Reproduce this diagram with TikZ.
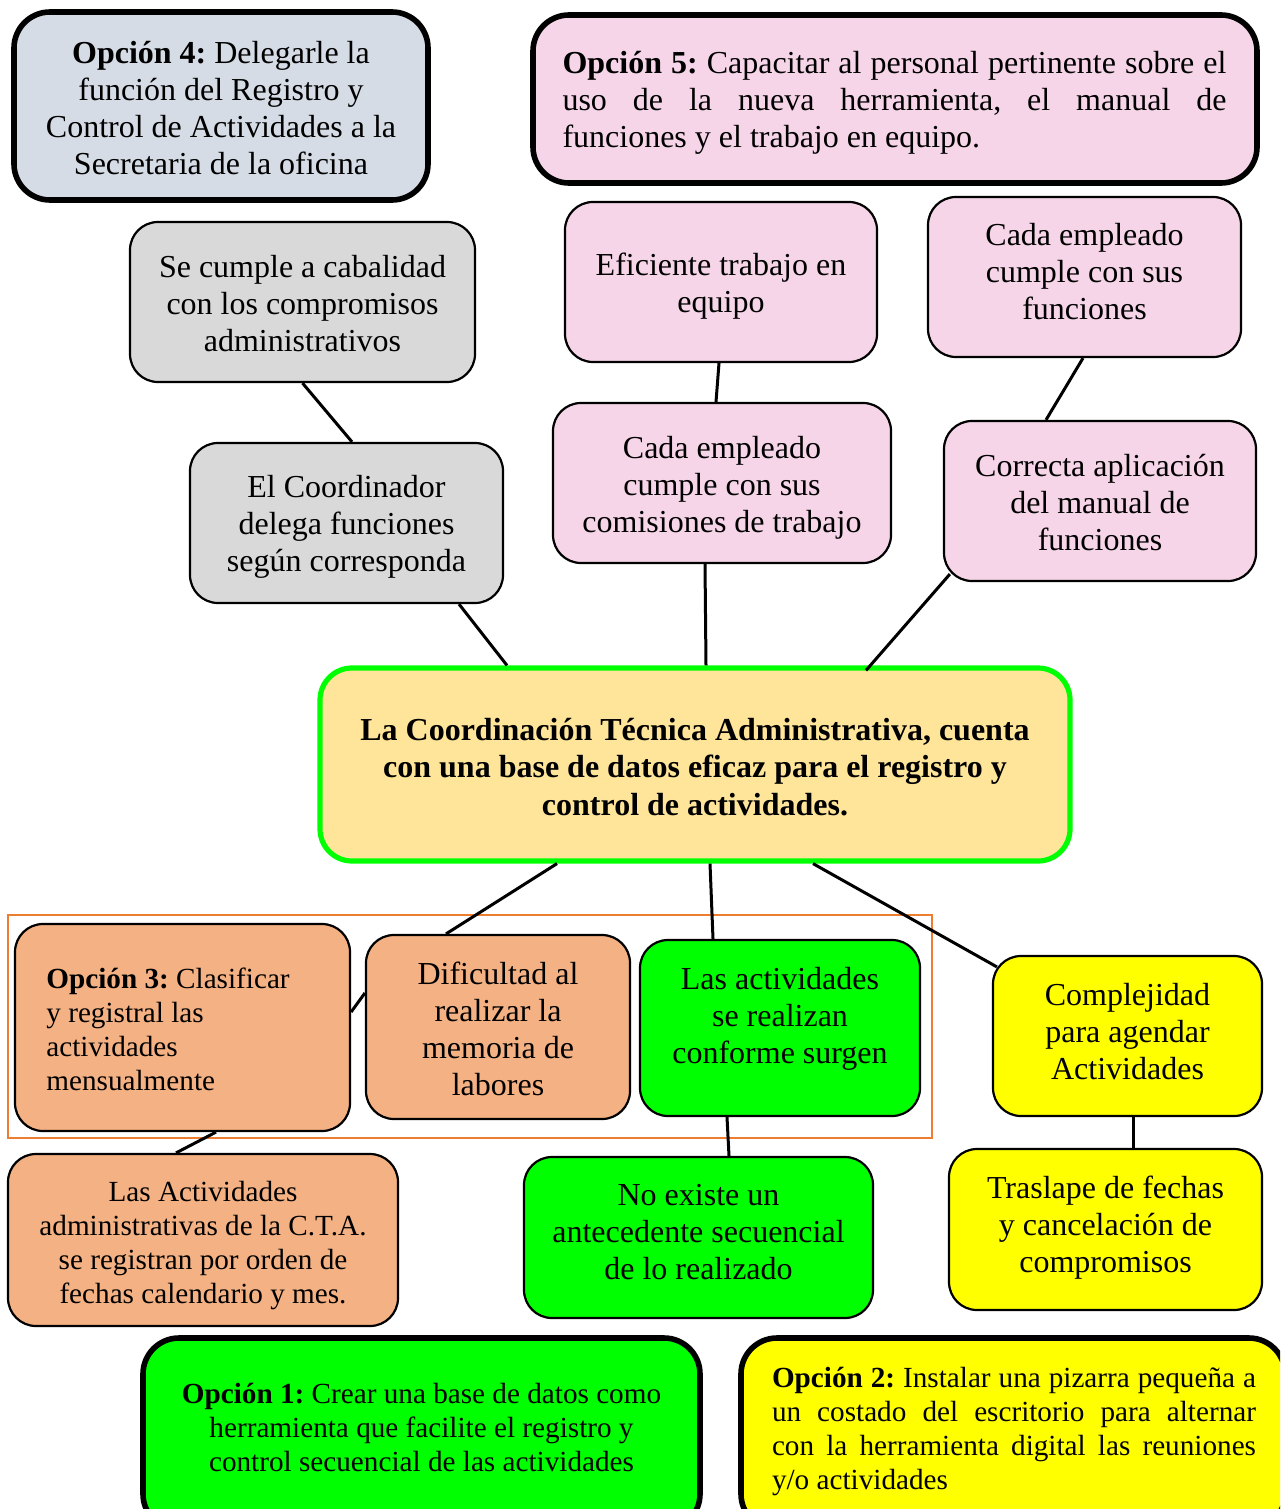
\documentclass[tikz,border=0pt]{standalone}
\usepackage{fontspec}
\setmainfont{Liberation Serif}
\usetikzlibrary{calc}
\frenchspacing

\definecolor{azulgris}{HTML}{D6DCE5}
\definecolor{rosa}{HTML}{F6D5E8}
\definecolor{gris}{HTML}{D9D9D9}
\definecolor{crema}{HTML}{FFE599}
\definecolor{verde}{HTML}{00FF00}
\definecolor{salmon}{HTML}{F4B183}
\definecolor{naranja}{HTML}{ED7D31}
\definecolor{amarillo}{HTML}{FFFF00}

\tikzset{
  box/.style={draw=black, line width=1.1pt, rounded corners=14pt, inner sep=0pt},
  heavybox/.style={box, line width=2.8pt, rounded corners=18pt},
  txt/.style={inner sep=0pt, align=center, font=\fontsize{16}{18.5}\selectfont},
  smalltxt/.style={inner sep=0pt, align=center, font=\fontsize{14.6}{17}\selectfont},
  link/.style={line width=1.5pt, draw=black},
}

\begin{document}
\begin{tikzpicture}[x=0.5pt, y=-0.5pt]
  \clip (0,0) rectangle (1280,1509);
  \fill[white] (0,0) rectangle (1280,1509);

  % group frame around the first row of causes
  \node[draw=naranja, line width=1pt, inner sep=0pt, minimum width=462pt, minimum height=111.5pt] (grp) at (470,1026.5) {};

  % boxes
  \node[heavybox, fill=azulgris, minimum width=207pt, minimum height=94pt] (op4) at (221,106) {};
  \node[heavybox, fill=rosa, minimum width=362pt, minimum height=84pt] (op5) at (895,99) {};
  \node[box, fill=gris, minimum width=172.5pt, minimum height=80pt] (sc) at (302.5,302) {};
  \node[box, fill=rosa, minimum width=156pt, minimum height=80pt] (ef) at (721,282) {};
  \node[box, fill=rosa, minimum width=156.5pt, minimum height=80pt] (cf) at (1084.5,277) {};
  \node[box, fill=gris, minimum width=156.5pt, minimum height=80pt] (co) at (346.5,523) {};
  \node[box, fill=rosa, minimum width=169pt, minimum height=80pt] (cc) at (722,483) {};
  \node[box, fill=rosa, minimum width=156pt, minimum height=80pt] (ca) at (1100,501) {};
  \node[box, draw=verde, line width=2.6pt, rounded corners=16pt, fill=crema, minimum width=375pt, minimum height=96.5pt] (cta) at (695,764.5) {};
  \node[box, fill=salmon, minimum width=167.5pt, minimum height=103.5pt] (op3) at (182.5,1027.5) {};
  \node[box, fill=salmon, minimum width=132pt, minimum height=92pt] (di) at (498,1027) {};
  \node[box, fill=verde, minimum width=140pt, minimum height=88pt] (ar) at (780,1028) {};
  \node[box, fill=amarillo, minimum width=134.5pt, minimum height=80pt] (cp) at (1127.5,1036) {};
  \node[box, fill=salmon, minimum width=195pt, minimum height=86pt] (la) at (203,1240) {};
  \node[box, fill=verde, minimum width=174.5pt, minimum height=80.5pt] (ne) at (698.5,1237.5) {};
  \node[box, fill=amarillo, minimum width=156.5pt, minimum height=80.5pt] (tr) at (1105.5,1229.5) {};
  \node[heavybox, fill=verde, minimum width=278.5pt, minimum height=96pt] (op1) at (421.5,1434) {};
  \node[heavybox, fill=amarillo, minimum width=272pt, minimum height=96pt] (op2) at (1013,1434) {};

  % texts
  \node[txt] (op4-t) at (221,108) {\textbf{Opción 4:} Delegarle la\\función del Registro y\\Control de Actividades a la\\Secretaria de la oficina};
  \node[txt, text width=332pt, align=justify] (op5-t) at (894.5,103) {\textbf{Opción 5:} Capacitar al personal pertinente sobre el\linebreak uso de la nueva herramienta, el manual de\linebreak funciones y el trabajo en equipo.};
  \node[txt] (sc-t) at (302.5,304) {Se cumple a cabalidad\\con los compromisos\\administrativos};
  \node[txt] (ef-t) at (721,286) {Eficiente trabajo en\\equipo};
  \node[txt] (cf-t) at (1084.5,272) {Cada empleado\\cumple con sus\\funciones};
  \node[txt] (co-t) at (346.5,527) {El Coordinador\\delega funciones\\según corresponda};
  \node[txt] (cc-t) at (722,488) {Cada empleado\\cumple con sus\\comisiones de trabajo};
  \node[txt] (ca-t) at (1100,503) {Correcta aplicación\\del manual de\\funciones};
  \node[txt, font=\bfseries\fontsize{16}{18.75}\selectfont] (cta-t) at (695,767) {La Coordinación Técnica Administrativa, cuenta\\con una base de datos eficaz para el registro y\\control de actividades.};
  \node[smalltxt, align=left, anchor=west] (op3-t) at (46,1029.5) {\textbf{Opción 3:} Clasificar\\y registral las\\actividades\\mensualmente};
  \node[txt] (di-t) at (498,1028.5) {Dificultad al\\realizar la\\memoria de\\labores};
  \node[txt] (ar-t) at (780,1019) {Las actividades\\se realizan\\conforme surgen};
  \node[txt] (cp-t) at (1127.5,1032) {Complejidad\\para agendar\\Actividades};
  \node[smalltxt] (la-t) at (203,1246) {Las Actividades\\administrativas de la C.T.A.\\se registran por orden de\\fechas calendario y mes.};
  \node[txt] (ne-t) at (698.5,1232) {No existe un\\antecedente secuencial\\de lo realizado};
  \node[txt] (tr-t) at (1105.5,1228) {Traslape de fechas\\y cancelación de\\compromisos};
  \node[smalltxt] (op1-t) at (421.5,1427) {\textbf{Opción 1:} Crear una base de datos como\\herramienta que facilite el registro y\\control secuencial de las actividades};
  \node[smalltxt, text width=242pt, align=justify] (op2-t) at (1014,1431.5) {\textbf{Opción 2:} Instalar una pizarra pequeña a\linebreak un costado del escritorio para alternar\linebreak con la herramienta digital las reuniones\linebreak y/o actividades};

  % connectors
  \draw[link] (sc.south) -- ([xshift=2.75pt]co.north);
  \draw[link] ([xshift=56.25pt]co.south) -- ([xshift=-94pt]cta.north);
  \draw[link] ([xshift=-1pt]ef.south) -- ([xshift=-3pt]cc.north);
  \draw[link] ([xshift=-8.5pt]cc.south) -- ([xshift=5.5pt]cta.north);
  \draw[link] ([xshift=-0.75pt]cf.south) -- ([xshift=-27pt]ca.north);
  \draw[link] ([shift={(3.5pt,4pt)}]ca.south west) -- ([xshift=85.5pt,yshift=-2.5pt]cta.north);
  \draw[link] ([xshift=-69pt]cta.south) -- ([xshift=-26pt]di.north);
  \draw[link] ([xshift=7.5pt]cta.south) -- ([xshift=-33.5pt]ar.north);
  \draw[link] ([xshift=59pt]cta.south) -- ([shift={(2.5pt,-6pt)}]cp.north west);
  \draw[link] ([yshift=7.75pt]op3.east) -- ([yshift=17pt]di.west);
  \draw[link] ([xshift=16.75pt]op3.south) -- ([xshift=-13.5pt]la.north);
  \draw[link] ([xshift=-26.5pt]ar.south) -- ([xshift=15.25pt]ne.north);
  \draw[link] ([xshift=2.75pt]cp.south) -- ([xshift=13.75pt]tr.north);
\end{tikzpicture}
\end{document}
